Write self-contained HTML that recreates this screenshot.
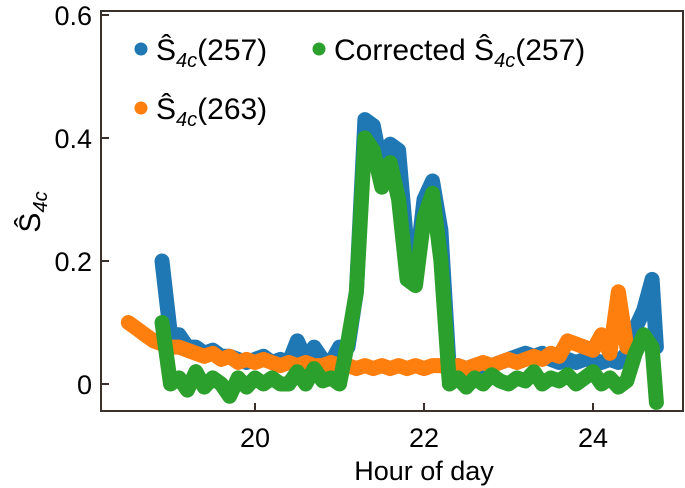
<!DOCTYPE html>
<html><head><meta charset="utf-8"><style>
html,body{margin:0;padding:0;background:#fff;}
svg{display:block;font-family:"Liberation Sans",sans-serif;}
</style></head><body>
<svg id="chart" width="685" height="488" viewBox="0 0 685 488">
<g id="plot"></g>
<rect x="101" y="11" width="582" height="400" fill="none" stroke="#3a302c" stroke-width="2"/>
<g id="axes"></g>
<g>
  <g>
    <circle cx="141" cy="49" r="6.5" fill="#1f77b4"/>
    <text x="156" y="60" font-size="30">Ŝ<tspan font-style="italic" font-size="20" dy="7">4c</tspan><tspan dy="-7">(257)</tspan></text>
  </g>
  <g>
    <circle cx="319" cy="49" r="6.5" fill="#2ca02c"/>
    <text x="334" y="60" font-size="30">Corrected Ŝ<tspan font-style="italic" font-size="20" dy="7">4c</tspan><tspan dy="-7">(257)</tspan></text>
  </g>
  <g>
    <circle cx="141" cy="108" r="6.5" fill="#ff7f0e"/>
    <text x="156" y="119" font-size="30">Ŝ<tspan font-style="italic" font-size="20" dy="7">4c</tspan><tspan dy="-7">(263)</tspan></text>
  </g>
</g>
<text x="424" y="480" font-size="27" text-anchor="middle">Hour of day</text>
<text transform="translate(40,212) rotate(-90)" font-size="30" text-anchor="middle">Ŝ<tspan font-style="italic" font-size="20" dy="7">4c</tspan></text>
</svg>
<script>
const hours = [18.5,18.6,18.7,18.8,18.9,19.0,19.1,19.2,19.3,19.4,19.5,19.6,19.7,19.8,19.9,20.0,20.1,20.2,20.3,20.4,20.5,20.6,20.7,20.8,20.9,21.0,21.1,21.2,21.3,21.4,21.5,21.6,21.7,21.8,21.9,22.0,22.1,22.2,22.3,22.4,22.5,22.6,22.7,22.8,22.9,23.0,23.1,23.2,23.3,23.4,23.5,23.6,23.7,23.8,23.9,24.0,24.1,24.2,24.3,24.4,24.5,24.6,24.7,24.75];
const s263 = [.10,.09,.08,.07,.065,.06,.06,.055,.05,.045,.05,.04,.045,.035,.04,.035,.04,.035,.03,.035,.03,.035,.03,.03,.035,.03,.03,.025,.03,.025,.03,.025,.03,.025,.03,.025,.03,.03,.025,.03,.025,.03,.035,.03,.035,.04,.035,.04,.045,.04,.05,.045,.07,.065,.06,.055,.08,.05,.15,.06,null,null,null,null];
const s257 = [null,null,null,null,.2,.08,.08,.06,.06,.05,.055,.045,.045,.04,.035,.04,.045,.035,.04,.035,.07,.04,.06,.04,.035,.06,.06,.15,.43,.42,.35,.39,.38,.22,.18,.3,.33,.25,.02,.03,.025,.03,.02,.03,.035,.04,.045,.05,.045,.05,.04,.035,.04,.035,.04,.04,.035,.04,.035,.05,.09,.12,.17,.06];
const corr257 = [null,null,null,null,.1,0,.01,-.01,.02,-.005,.01,0,-.02,.01,-.005,.01,0,.01,0,0,.02,0,.025,.005,.01,0,.07,.15,.4,.38,.32,.36,.3,.17,.16,.27,.31,.2,0,.01,-.005,.01,0,.015,.005,0,.01,.005,.02,0,.01,.005,.015,0,.01,.02,0,.01,-.005,.005,.05,.08,.06,-.03];
const xTicks = [20,22,24];
const yTicks = [0,0.2,0.4,0.6];
const yTickLabels = ["0","0.2","0.4","0.6"];

const X = h => 255 + (h - 20) * 84.5;
const Y = v => 384 - v * 615;
const NS = "http://www.w3.org/2000/svg";
const plot = document.getElementById('plot');
const axes = document.getElementById('axes');

function drawSeries(vals, color, name) {
  let d = "";
  let started = false;
  vals.forEach((v, i) => {
    if (v === null) { started = false; return; }
    d += (started ? "L" : "M") + X(hours[i]).toFixed(1) + "," + Y(v).toFixed(1);
    started = true;
  });
  const p = document.createElementNS(NS, 'path');
  p.setAttribute('d', d);
  p.setAttribute('fill', 'none');
  p.setAttribute('stroke', color);
  p.setAttribute('stroke-width', '15');
  p.setAttribute('stroke-linejoin', 'round');
  p.setAttribute('stroke-linecap', 'round');
  
  
  plot.appendChild(p);
}
drawSeries(s257, '#1f77b4', 'series-s4c-257');
drawSeries(s263, '#ff7f0e', 'series-s4c-263');
drawSeries(corr257, '#2ca02c', 'series-corrected-s4c-257');

xTicks.forEach(t => {
  const l = document.createElementNS(NS, 'line');
  l.setAttribute('x1', X(t)); l.setAttribute('x2', X(t));
  l.setAttribute('y1', 411); l.setAttribute('y2', 403);
  l.setAttribute('stroke', '#3a302c'); l.setAttribute('stroke-width', '2');
  
  
  axes.appendChild(l);
  const tx = document.createElementNS(NS, 'text');
  tx.setAttribute('x', X(t)); tx.setAttribute('y', 447);
  tx.setAttribute('font-size', '27'); tx.setAttribute('text-anchor', 'middle');
  tx.textContent = t;
  
  
  axes.appendChild(tx);
});
yTicks.forEach((t, i) => {
  const l = document.createElementNS(NS, 'line');
  l.setAttribute('x1', 101); l.setAttribute('x2', 109);
  l.setAttribute('y1', Y(t)); l.setAttribute('y2', Y(t));
  l.setAttribute('stroke', '#3a302c'); l.setAttribute('stroke-width', '2');
  
  
  axes.appendChild(l);
  const tx = document.createElementNS(NS, 'text');
  tx.setAttribute('x', 92); tx.setAttribute('y', Y(t) + 10);
  tx.setAttribute('font-size', '27'); tx.setAttribute('text-anchor', 'end');
  tx.textContent = yTickLabels[i];
  
  
  axes.appendChild(tx);
});
</script>
</body></html>
